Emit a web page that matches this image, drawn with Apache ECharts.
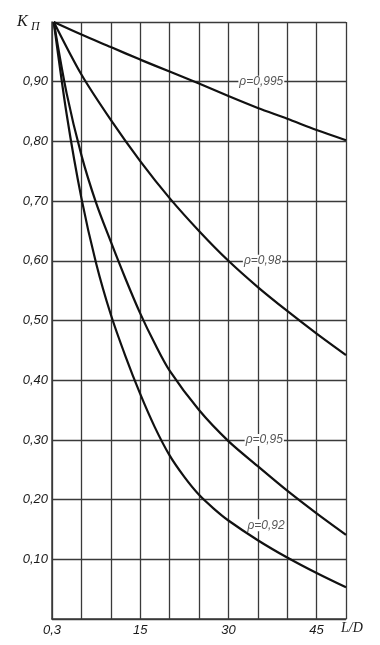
<!DOCTYPE html>
<html>
<head>
<meta charset="utf-8">
<script src="https://cdn.jsdelivr.net/npm/echarts@6/dist/echarts.min.js"></script>
<style>
html,body{margin:0;padding:0;background:#fff;}
#chart{width:380px;height:645px;}
</style>
</head>
<body>
<div id="chart"></div>
<script>
// L/D sample points
var ld995 = [0.3, 5, 10, 15, 20, 25, 30, 35, 40, 45, 50];
var k995  = [1.0, 0.979, 0.958, 0.937, 0.917, 0.897, 0.876, 0.856, 0.838, 0.819, 0.802];
var ld98  = [0.3, 5, 10, 15, 20, 25, 30, 35, 40, 45, 50];
var k98   = [1.0, 0.912, 0.836, 0.767, 0.705, 0.650, 0.600, 0.556, 0.516, 0.478, 0.442];
var ld95  = [0.3, 2.5, 5, 7.5, 10, 12.5, 15, 17.5, 20, 25, 30, 35, 40, 45, 50];
var k95   = [1.0, 0.880, 0.777, 0.697, 0.632, 0.570, 0.512, 0.461, 0.416, 0.350, 0.298, 0.256, 0.215, 0.177, 0.141];
var ld92  = [0.3, 2.5, 5, 7.5, 10, 12.5, 15, 17.5, 20, 22.5, 25, 27.5, 30, 35, 40, 45, 50];
var k92   = [1.0, 0.845, 0.705, 0.596, 0.510, 0.440, 0.377, 0.321, 0.274, 0.238, 0.208, 0.185, 0.165, 0.132, 0.103, 0.077, 0.053];
var curveNames = ['ρ=0,995', 'ρ=0,98', 'ρ=0,95', 'ρ=0,92'];
var xTickLabels = {0: '0,3', 15: '15', 30: '30', 45: '45'};

function pairs(xs, ys) { return xs.map(function (x, i) { return [x, ys[i]]; }); }

var labelAnchors = [[35.6, 0.9], [35.8, 0.6], [36.1, 0.3], [36.4, 0.157]];
var curves = [[ld995, k995], [ld98, k98], [ld95, k95], [ld92, k92]];

var chart = echarts.init(document.getElementById('chart'), null, {renderer: 'canvas'});
var gridColor = '#3a3a3a';
var series = curves.map(function (c, i) {
  return {
    name: curveNames[i],
    type: 'line',
    data: pairs(c[0], c[1]),
    smooth: 0.3,
    showSymbol: false,
    symbol: 'none',
    lineStyle: {color: '#111', width: 2.2},
    z: 3,
    markPoint: {
      symbol: 'rect',
      symbolSize: [1, 1],
      itemStyle: {color: 'rgba(0,0,0,0)'},
      z: 5,
      data: [{coord: labelAnchors[i]}],
      label: {
        show: true,
        position: 'inside',
        formatter: curveNames[i],
        fontFamily: 'Liberation Sans',
        fontStyle: 'italic',
        fontSize: 12,
        color: '#555',
        backgroundColor: '#fff',
        padding: [0, 1]
      }
    }
  };
});

chart.setOption({
  animation: false,
  backgroundColor: '#fff',
  grid: {left: 52, top: 22, right: 34, bottom: 26, containLabel: false},
  xAxis: {
    type: 'value', min: 0, max: 50, interval: 5,
    axisLine: {show: true, onZero: false, lineStyle: {color: gridColor, width: 1.5}},
    axisTick: {show: false},
    splitLine: {show: true, lineStyle: {color: gridColor, width: 1.3}},
    axisLabel: {
      margin: 5,
      fontFamily: 'Liberation Sans', fontStyle: 'italic', fontSize: 13, color: '#1a1a1a',
      formatter: function (v) { return xTickLabels[v] !== undefined ? xTickLabels[v] : ''; }
    }
  },
  yAxis: {
    type: 'value', min: 0, max: 1, interval: 0.1,
    axisLine: {show: true, lineStyle: {color: gridColor, width: 1.5}},
    axisTick: {show: false},
    splitLine: {show: true, lineStyle: {color: gridColor, width: 1.3}},
    axisLabel: {
      margin: 4,
      fontFamily: 'Liberation Sans', fontStyle: 'italic', fontSize: 13, color: '#1a1a1a',
      formatter: function (v) {
        if (v < 0.05 || v > 0.95) return '';
        return v.toFixed(2).replace('.', ',');
      }
    }
  },
  graphic: [
    {type: 'text', left: 17, top: 14, style: {text: 'K', font: 'italic 16px "Liberation Serif"', fill: '#1a1a1a'}},
    {type: 'text', left: 31, top: 21, style: {text: 'П', font: 'italic 12px "Liberation Serif"', fill: '#1a1a1a'}},
    {type: 'text', left: 341, top: 621, style: {text: 'L/D', font: 'italic 14px "Liberation Serif"', fill: '#1a1a1a'}}
  ],
  series: series
});
</script>
</body>
</html>
